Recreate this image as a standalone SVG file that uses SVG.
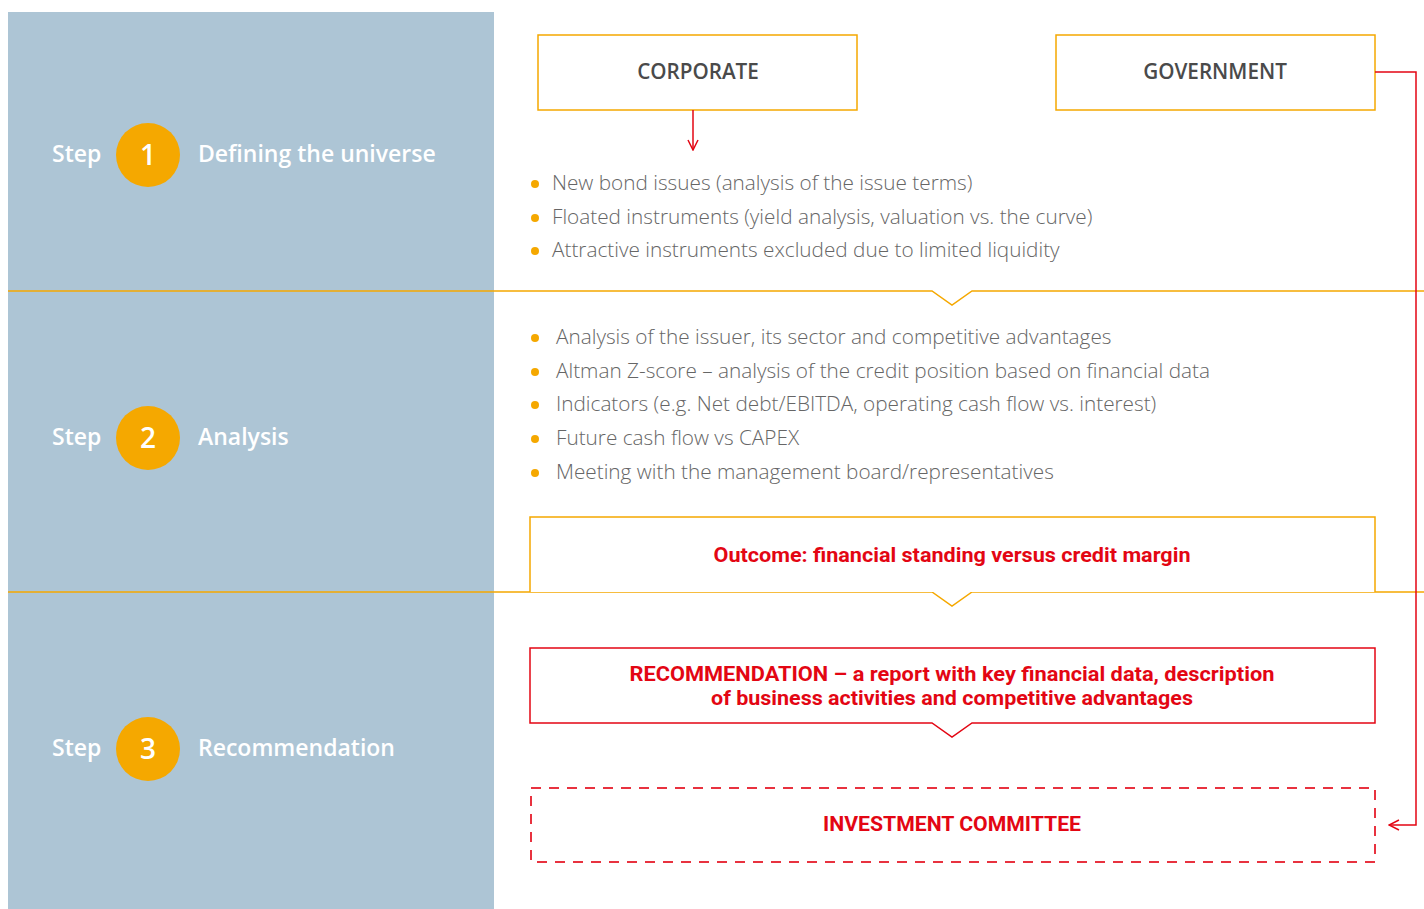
<svg xmlns="http://www.w3.org/2000/svg" width="1424" height="909" viewBox="0 0 1424 909">
<defs>
<style>
.panel{fill:#adc5d5}
.sep{fill:none;stroke:#f5a800;stroke-width:1.5}
.circ{fill:#f5a800}
.step{font-family:"Open Sans","Noto Sans",sans-serif;font-weight:600;font-size:23px;fill:#ffffff}
.num{font-family:"Open Sans","Noto Sans",sans-serif;font-weight:600;font-size:28px;fill:#ffffff;text-anchor:middle}
.hbox{fill:#ffffff;stroke:#f5a800;stroke-width:1.5}
.htxt{font-family:"Open Sans","Noto Sans",sans-serif;font-weight:600;font-size:20.7px;fill:#4a4a4a;text-anchor:middle}
.bul{fill:#f5a800}
.btxt{font-family:"Open Sans","Noto Sans",sans-serif;font-weight:300;font-size:20.75px;fill:#666666}
.rtxt{font-family:"Roboto","Noto Sans",sans-serif;font-weight:700;font-size:21px;fill:#e30613;text-anchor:middle}
.rbox{fill:#ffffff;stroke:#e30613;stroke-width:1.5}
.dbox{fill:none;stroke:#e8323f;stroke-width:2;stroke-dasharray:10 8}
.conn{fill:none;stroke:#e30613;stroke-width:1.5}
</style>
<marker id="arr" viewBox="0 0 12 12" refX="11" refY="6" markerWidth="12" markerHeight="12" markerUnits="userSpaceOnUse" orient="auto">
<path d="M1,1 L11,6 L1,11" fill="none" stroke="#e30613" stroke-width="1.5"/>
</marker>
</defs>
<rect x="0" y="0" width="1424" height="909" fill="#ffffff"/>
<rect class="panel" x="8" y="12" width="486" height="897"/>

<g id="separators">
<path class="sep" d="M8,291 H932 L952,305 L972,291 H1424"/>
<path class="sep" d="M8,592 H932 L952,606 L972,592 H1424"/>
</g>

<g id="step1">
<text class="step" x="52" y="162">Step</text>
<circle class="circ" cx="148" cy="155" r="32"/>
<text class="num" x="148" y="165">1</text>
<text class="step" x="198" y="162">Defining the universe</text>
</g>
<g id="step2">
<text class="step" x="52" y="445">Step</text>
<circle class="circ" cx="148" cy="438" r="32"/>
<text class="num" x="148" y="448">2</text>
<text class="step" x="198" y="445">Analysis</text>
</g>
<g id="step3">
<text class="step" x="52" y="756">Step</text>
<circle class="circ" cx="148" cy="749" r="32"/>
<text class="num" x="148" y="759">3</text>
<text class="step" x="198" y="756">Recommendation</text>
</g>

<g id="corporate">
<rect class="hbox" x="538" y="35" width="319" height="75"/>
<text class="htxt" x="698" y="79">CORPORATE</text>
</g>
<g id="government">
<rect class="hbox" x="1056" y="35" width="319" height="75"/>
<text class="htxt" x="1215" y="79">GOVERNMENT</text>
</g>

<g id="list1">
<circle class="bul" cx="535" cy="184" r="4"/>
<text class="btxt" x="552" y="190">New bond issues (analysis of the issue terms)</text>
<circle class="bul" cx="535" cy="218" r="4"/>
<text class="btxt" x="552" y="224">Floated instruments (yield analysis, valuation vs. the curve)</text>
<circle class="bul" cx="535" cy="251" r="4"/>
<text class="btxt" x="552" y="257">Attractive instruments excluded due to limited liquidity</text>
</g>

<g id="list2">
<circle class="bul" cx="535" cy="338" r="4"/>
<text class="btxt" x="556" y="344">Analysis of the issuer, its sector and competitive advantages</text>
<circle class="bul" cx="535" cy="372" r="4"/>
<text class="btxt" x="556" y="378">Altman Z-score – analysis of the credit position based on financial data</text>
<circle class="bul" cx="535" cy="405" r="4"/>
<text class="btxt" x="556" y="411">Indicators (e.g. Net debt/EBITDA, operating cash flow vs. interest)</text>
<circle class="bul" cx="535" cy="439" r="4"/>
<text class="btxt" x="556" y="445">Future cash flow vs CAPEX</text>
<circle class="bul" cx="535" cy="473" r="4"/>
<text class="btxt" x="556" y="479">Meeting with the management board/representatives</text>
</g>

<g id="outcome">
<path class="hbox" d="M530,592 V517 H1375 V592"/>
<text class="rtxt" x="952" y="562" textLength="477" lengthAdjust="spacingAndGlyphs">Outcome: financial standing versus credit margin</text>
</g>

<g id="recommendation">
<path class="rbox" d="M530,648 H1375 V723 H972 L952,737 L932,723 H530 Z"/>
<text class="rtxt" x="952" y="681" textLength="645" lengthAdjust="spacingAndGlyphs">RECOMMENDATION – a report with key financial data, description</text>
<text class="rtxt" x="952" y="705" textLength="482" lengthAdjust="spacingAndGlyphs">of business activities and competitive advantages</text>
</g>

<g id="committee">
<rect class="dbox" x="531" y="788" width="844" height="74"/>
<text class="rtxt" x="952" y="831" textLength="258" lengthAdjust="spacingAndGlyphs">INVESTMENT COMMITTEE</text>
</g>

<g id="connectors">
<path class="conn" d="M693,110 V150" marker-end="url(#arr)"/>
<path class="conn" d="M1375,72 H1416 V825 H1389" marker-end="url(#arr)"/>
</g>
</svg>
